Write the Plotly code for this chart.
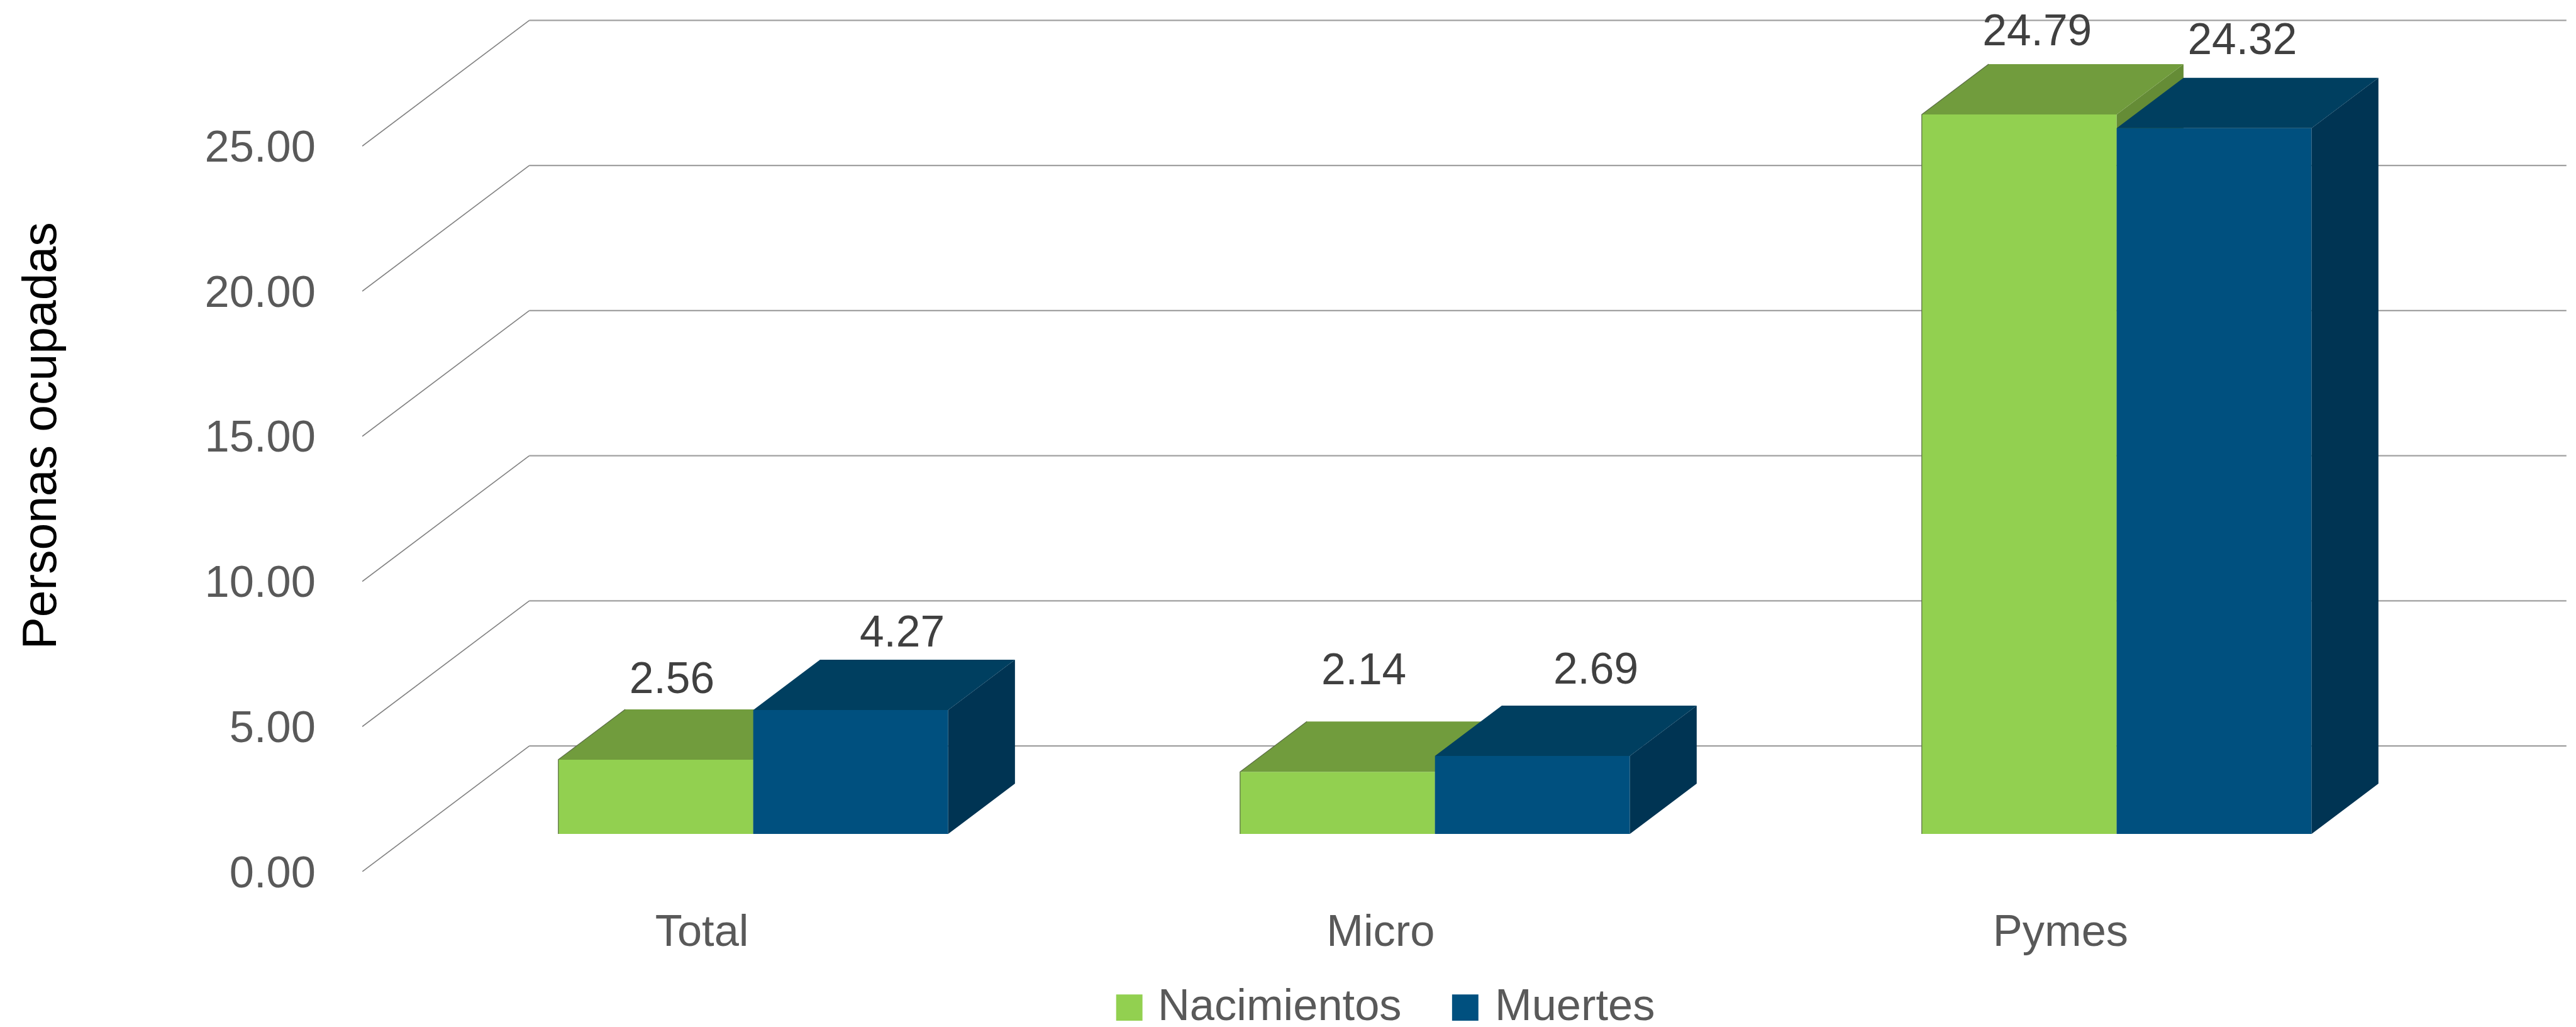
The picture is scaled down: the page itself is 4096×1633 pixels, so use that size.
import plotly.graph_objects as go

# ---- data ----
categories = ["Total", "Micro", "Pymes"]
nacimientos = [2.56, 2.14, 24.79]
muertes = [4.27, 2.69, 24.32]
y_ticks = [0, 5, 10, 15, 20, 25]
series_names = ["Nacimientos", "Muertes"]

# ---- layout (reference pixels, scaled to the window) ----
S = 4096 / 4302
W, H = 4096, 1633
PX_LEFT, PX_BOTTOM = 605, 1456
PX_PER_BAND, PX_PER_UNIT = 1138.5, 48.48
X_RANGE = [0, (4302 - PX_LEFT) / PX_PER_BAND]
Y_RANGE = [0, PX_BOTTOM / PX_PER_UNIT]
DX, DY = 279 / PX_PER_BAND, 210 / PX_PER_UNIT     # floor depth in axis units
BAR_W = 325.5 / PX_PER_BAND
GRID_END = (4286 - PX_LEFT) / PX_PER_BAND
FRONT, THICK = 0.3, 0.4                            # bar position within the depth
TICK_SHIFT = [-2, -7, -10]                         # category label nudge (reference px)

FONT = "Liberation Sans"
FS = 74 * S
FS_LABEL = 73 * S
FS_LEGEND = 74 * S
GREY, DARK = "#595959", "#404040"
STYLE = [
    dict(front="#92D050", top="#719C3D", side="#658C36"),
    dict(front="#00507F", top="#003F60", side="#003453"),
]
OFFSET = [-BAR_W, 0]
# label placement relative to the centre of each bar's front top edge (reference px)
LABEL_SHIFT = [
    [(27, 129), (44, 165), (30, 134)],
    [(86, 124), (106, 139), (47, 142)],
]

fig = go.Figure()

# gridlines: back wall lines with the diagonal on the side wall
for t in y_ticks:
    fig.add_trace(go.Scatter(x=[DX, GRID_END], y=[t + DY, t + DY], mode="lines",
                             line=dict(color="#A0A0A0", width=2.4),
                             hoverinfo="skip", showlegend=False))
    fig.add_trace(go.Scatter(x=[0, DX], y=[t, t + DY], mode="lines",
                             line=dict(color="#808080", width=1.6),
                             hoverinfo="skip", showlegend=False))

base = FRONT * DY
for k, values in enumerate([nacimientos, muertes]):
    xa, ya = f"x{k + 2}", f"y{k + 2}"
    st = STYLE[k]
    centres = [i + 0.5 + FRONT * DX for i in range(len(categories))]
    fig.add_trace(go.Bar(x=centres, y=values, base=base, width=BAR_W, offset=OFFSET[k],
                         marker=dict(color=st["front"], line=dict(width=0)),
                         name=series_names[k], xaxis=xa, yaxis=ya, showlegend=False))
    tx, ty, sx, sy, ex, ey = [], [], [], [], [], []
    ddx, ddy = THICK * DX, THICK * DY
    for c, v in zip(centres, values):
        x0 = c + OFFSET[k]
        x1 = x0 + BAR_W
        yt = base + v
        tx += [x0, x1, x1 + ddx, x0 + ddx, x0, None]
        ty += [yt, yt, yt + ddy, yt + ddy, yt, None]
        sx += [x1, x1, x1 + ddx, x1 + ddx, x1, None]
        sy += [base, yt, yt + ddy, base + ddy, base, None]
        ex += [x0, x0, x0 + ddx, None]
        ey += [base, yt, yt + ddy, None]
    fig.add_trace(go.Scatter(x=sx, y=sy, fill="toself", fillcolor=st["side"], mode="lines",
                             line=dict(width=0), hoverinfo="skip", showlegend=False,
                             xaxis=xa, yaxis=ya))
    fig.add_trace(go.Scatter(x=tx, y=ty, fill="toself", fillcolor=st["top"], mode="lines",
                             line=dict(width=0), hoverinfo="skip", showlegend=False,
                             xaxis=xa, yaxis=ya))
    if k == 0:  # thin dark outline on the bars' left edge
        fig.add_trace(go.Scatter(x=ex, y=ey, mode="lines", line=dict(color="#5A6B45", width=1.2),
                                 hoverinfo="skip", showlegend=False, xaxis=xa, yaxis=ya))

# data labels go on the top layer
for k, values in enumerate([nacimientos, muertes]):
    lx, ly = [], []
    for i, v in enumerate(values):
        c = i + 0.5 + FRONT * DX + OFFSET[k] + BAR_W / 2
        lx.append(c + LABEL_SHIFT[k][i][0] / PX_PER_BAND)
        ly.append(base + v + LABEL_SHIFT[k][i][1] / PX_PER_UNIT)
    fig.add_trace(go.Scatter(x=lx, y=ly, text=[f"{v:.2f}" for v in values], mode="text",
                             textposition="middle center", cliponaxis=False,
                             textfont=dict(family=FONT, size=FS_LABEL, color=DARK),
                             hoverinfo="skip", showlegend=False, xaxis="x3", yaxis="y3"))

# legend, drawn to size
LEG = [(1864, 1933), (2425, 2496)]
shapes, annotations = [], []
for k, (sq, tx0) in enumerate(LEG):
    shapes.append(dict(type="rect", xref="paper", yref="paper", layer="above",
                       x0=(sq - PX_LEFT) / (4302 - PX_LEFT), x1=(sq + 44 - PX_LEFT) / (4302 - PX_LEFT),
                       y0=-(1705 - PX_BOTTOM) / PX_BOTTOM, y1=-(1661 - PX_BOTTOM) / PX_BOTTOM,
                       fillcolor=STYLE[k]["front"], line=dict(width=0)))
    annotations.append(dict(xref="paper", yref="paper", x=(tx0 - PX_LEFT) / (4302 - PX_LEFT),
                            y=-(1678 - PX_BOTTOM) / PX_BOTTOM, xanchor="left", yanchor="middle",
                            text=series_names[k], showarrow=False, borderpad=0,
                            font=dict(family=FONT, size=FS_LEGEND, color=GREY)))

hidden_x = dict(overlaying="x", range=X_RANGE, visible=False)
hidden_y = dict(overlaying="y", range=Y_RANGE, visible=False)

fig.update_layout(
    width=W, height=H, autosize=False,
    margin=dict(l=PX_LEFT * S, r=0, t=0, b=(1715 - PX_BOTTOM) * S, pad=0),
    paper_bgcolor="white", plot_bgcolor="white",
    barmode="overlay", showlegend=False,
    font=dict(family=FONT, color=GREY),
    shapes=shapes, annotations=annotations,
    xaxis=dict(range=X_RANGE, tickmode="array",
               tickvals=[i + 0.5 + TICK_SHIFT[i] / PX_PER_BAND for i in range(len(categories))],
               ticktext=categories,
               showgrid=False, zeroline=False, showline=False,
               ticks="outside", ticklen=34 * S, tickcolor="rgba(0,0,0,0)",
               tickfont=dict(family=FONT, size=FS, color=GREY)),
    yaxis=dict(range=Y_RANGE, tickmode="array", tickvals=y_ticks, tickformat=".2f",
               showgrid=False, zeroline=False, showline=False,
               ticks="outside", ticklen=62 * S, tickcolor="rgba(0,0,0,0)",
               tickfont=dict(family=FONT, size=FS, color=GREY),
               title=dict(text="Personas ocupadas", standoff=221 * S,
                          font=dict(family=FONT, size=80.7 * S, color="black"))),
    xaxis2=hidden_x, yaxis2=hidden_y, xaxis3=hidden_x, yaxis3=hidden_y,
)

fig.write_html("out.html", config={"displayModeBar": False},
               post_script="document.body.style.margin='0';")
